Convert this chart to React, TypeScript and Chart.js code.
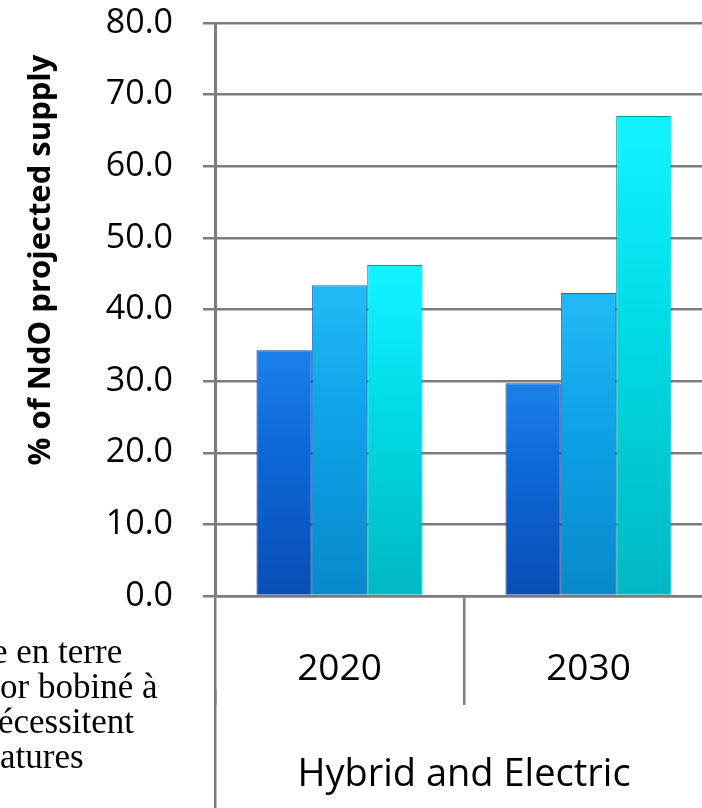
import React, { useEffect, useRef } from "react";
import { Chart, registerables } from "chart.js";

Chart.register(...registerables);

// ---- data ----
const categories = ["2020", "2030"];
const groupLabels = ["Hybrid and Electric"];
const seriesA = [34.3, 29.7];
const seriesB = [43.4, 42.3];
const seriesC = [46.2, 67.0];
const yMin = 0;
const yMax = 80;
const yStep = 10;
const yTitle = "% of NdO projected supply";
const noteLines = ["e en terre", "or bobiné à", "écessitent", "atures"];

// ---- styles ----
const GRID = "#7c7c7c";
const FONT = "'Open Sans', 'Noto Sans', sans-serif";

function barGradient(bottom: string, mid: string, top: string) {
  return (ctx: any) => {
    const chart = ctx.chart;
    const area = chart.chartArea;
    if (!area) return mid;
    const y = chart.scales.y;
    const v = ctx.raw as number;
    const topPx = y && typeof v === "number" ? y.getPixelForValue(v) : area.top;
    const g = chart.ctx.createLinearGradient(0, area.bottom, 0, topPx);
    g.addColorStop(0, bottom);
    g.addColorStop(0.6, mid);
    g.addColorStop(0.95, top);
    g.addColorStop(1, top);
    return g;
  };
}

export default function App() {
  const canvasRef = useRef<HTMLCanvasElement | null>(null);

  useEffect(() => {
    const canvas = canvasRef.current;
    if (!canvas) return;
    const chart = new Chart(canvas, {
      type: "bar",
      data: {
        labels: categories,
        datasets: [
          {
            label: "A",
            data: seriesA,
            backgroundColor: barGradient("#0a4eb4", "#0d68d8", "#1a7ee8"),
            borderColor: "#0846a0",
            borderWidth: 1,
            barPercentage: 1,
            categoryPercentage: 0.667,
          },
          {
            label: "B",
            data: seriesB,
            backgroundColor: barGradient("#0888cc", "#0fa4ea", "#20b8f6"),
            borderColor: "#0a74aa",
            borderWidth: 1,
            barPercentage: 1,
            categoryPercentage: 0.667,
          },
          {
            label: "C",
            data: seriesC,
            backgroundColor: barGradient("#00b8c2", "#00dde8", "#10f2ff"),
            borderColor: "#009aa6",
            borderWidth: 1,
            barPercentage: 1,
            categoryPercentage: 0.667,
          },
        ],
      },
      options: {
        animation: false,
        responsive: false,
        devicePixelRatio: 1,
        layout: { padding: { top: 23, right: 17, left: 0, bottom: 0 } },
        plugins: {
          legend: { display: false },
          tooltip: { enabled: false },
          title: { display: false },
        },
        scales: {
          x: {
            type: "category",
            position: "bottom",
            offset: true,
            grid: {
              offset: true,
              drawOnChartArea: false,
              drawTicks: true,
              tickLength: 109,
              color: GRID,
              lineWidth: 2.5,
            },
            border: { display: true, color: GRID, width: 2.5 },
            ticks: {
              font: { family: FONT, size: 37 },
              color: "#000",
              padding: -58,
              maxRotation: 0,
              autoSkip: false,
            },
            afterFit: (s: any) => {
              s.height = 93;
            },
          },
          x2: {
            type: "category",
            position: "bottom",
            labels: groupLabels,
            offset: true,
            grid: {
              offset: true,
              drawOnChartArea: false,
              drawTicks: true,
              tickLength: 119,
              color: GRID,
              lineWidth: 2.5,
            },
            border: { display: false },
            ticks: { display: false },
            title: {
              display: true,
              text: groupLabels[0],
              font: { family: FONT, size: 38 },
              color: "#000",
              padding: { top: 0, bottom: 10 },
            },
            afterFit: (s: any) => {
              s.height = 119;
            },
          },
          y: {
            type: "linear",
            min: yMin,
            max: yMax,
            ticks: {
              stepSize: yStep,
              font: { family: FONT, size: 34 },
              color: "#000",
              padding: 30,
              callback: (v: any) => Number(v).toFixed(1),
            },
            grid: {
              color: GRID,
              lineWidth: 2.5,
              drawTicks: true,
              tickLength: 12,
            },
            border: { display: true, color: GRID, width: 3 },
            afterFit: (s: any) => {
              s.width = 215;
              s.paddingTop = 20;
              s.paddingBottom = 20;
            },
          },
        },
      },
    });
    return () => chart.destroy();
  }, []);

  return (
    <div
      style={{
        position: "absolute",
        left: 0,
        top: 0,
        width: 702,
        height: 808,
        overflow: "hidden",
        background: "#fff",
      }}
    >
      <canvas
        ref={canvasRef}
        width={730}
        height={808}
        style={{ position: "absolute", left: 0, top: 0, width: 730, height: 808 }}
      />
      <div
        style={{
          position: "absolute",
          left: 38 - 250,
          top: 260 - 20,
          width: 500,
          height: 40,
          lineHeight: "40px",
          textAlign: "center",
          transform: "rotate(-90deg)",
          fontFamily: FONT,
          fontWeight: 700,
          fontSize: 31,
          color: "#000",
          whiteSpace: "nowrap",
        }}
      >
        {yTitle}
      </div>
      {noteLines.map((t, i) => (
        <div
          key={i}
          style={{
            position: "absolute",
            left: [-8, 0, -2, 0][i],
            top: 634 + i * 35,
            height: 35,
            lineHeight: "35px",
            fontFamily: "'Liberation Serif', 'Times New Roman', serif",
            fontSize: 35,
            color: "#000",
            whiteSpace: "nowrap",
          }}
        >
          {t}
        </div>
      ))}
    </div>
  );
}
